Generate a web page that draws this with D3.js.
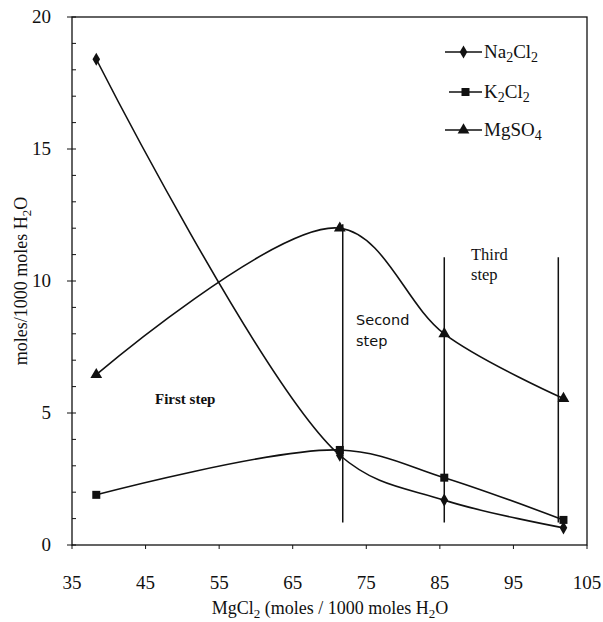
<!DOCTYPE html>
<html>
  <head>
    <meta charset="utf-8">
    <title>Evaporation steps</title>
    <script src="https://d3js.org/d3.v7.min.js"></script>
    <style>
      body { margin: 0; background: #fff; }
      text { font-family: "Liberation Serif", "Times New Roman", serif; fill: #111; }
    </style>
  </head>
  <body>
    <script>
      // data
      var mgcl2   = [38.3, 71.4, 85.6, 101.8];
      var na2cl2  = [18.4, 3.4, 1.7, 0.65];
      var k2cl2   = [1.9, 3.6, 2.55, 0.95];
      var mgso4   = [6.45, 12.0, 8.0, 5.55];
      var xTicks  = [35, 45, 55, 65, 75, 85, 95, 105];
      var yTicks  = [0, 5, 10, 15, 20];
      var stepX   = [71.8, 85.6, 101.1];
      var stepTop = [12.15, 10.9, 10.9];
      var stepBottom = 0.85;

      var margin = {top: 17, left: 72},
          width = 515, height = 528;

      var svg = d3.select("body").append("svg")
        .attr("width", 603)
        .attr("height", 622);

      var g = svg.append("g")
        .attr("transform", "translate(" + margin.left + "," + margin.top + ")");

      var xScale = d3.scaleLinear().domain([35, 105]).range([0, width]);
      var yScale = d3.scaleLinear().domain([0, 20]).range([height, 0]);

      // frame
      g.append("rect")
        .attr("width", width).attr("height", height)
        .attr("fill", "none").attr("stroke", "#111").attr("stroke-width", 1.3);

      // y ticks: minor inside, major crossing
      d3.range(0, 21).forEach(function(v) {
        var major = v % 5 === 0;
        g.append("line")
          .attr("x1", major ? -5 : 0).attr("x2", 4)
          .attr("y1", yScale(v)).attr("y2", yScale(v))
          .attr("stroke", "#111");
      });
      g.selectAll(".ylab")
        .data(yTicks)
        .enter().append("text")
          .attr("x", -21)
          .attr("y", function(d) { return yScale(d) + 6; })
          .attr("text-anchor", "end")
          .style("font-size", "19px")
          .text(function(d) { return d; });

      // x ticks
      g.selectAll(".xtick")
        .data(xTicks)
        .enter().append("line")
          .attr("x1", function(d) { return xScale(d); })
          .attr("x2", function(d) { return xScale(d); })
          .attr("y1", height).attr("y2", height + 4)
          .attr("stroke", "#111");
      g.selectAll(".xlab")
        .data(xTicks)
        .enter().append("text")
          .attr("x", function(d) { return xScale(d); })
          .attr("y", height + 44)
          .attr("text-anchor", "middle")
          .style("font-size", "19px")
          .text(function(d) { return d; });

      // axis titles
      var xt = svg.append("text")
        .attr("x", 330).attr("y", 614)
        .attr("text-anchor", "middle")
        .style("font-size", "18px");
      xt.append("tspan").text("MgCl");
      xt.append("tspan").attr("dy", 4).style("font-size", "13px").text("2");
      xt.append("tspan").attr("dy", -4).text(" (moles / 1000 moles H");
      xt.append("tspan").attr("dy", 4).style("font-size", "13px").text("2");
      xt.append("tspan").attr("dy", -4).text("O");

      var yt = svg.append("text")
        .attr("transform", "translate(27,281) rotate(-90)")
        .attr("text-anchor", "middle")
        .style("font-size", "18px");
      yt.append("tspan").text("moles/1000 moles H");
      yt.append("tspan").attr("dy", 4).style("font-size", "13px").text("2");
      yt.append("tspan").attr("dy", -4).text("O");

      // step dividers
      g.selectAll(".step")
        .data(stepX)
        .enter().append("line")
          .attr("x1", function(d) { return xScale(d); })
          .attr("x2", function(d) { return xScale(d); })
          .attr("y1", function(d, i) { return yScale(stepTop[i]); })
          .attr("y2", yScale(stepBottom))
          .attr("stroke", "#111").attr("stroke-width", 1.5);

      // series
      var series = [
        {name: "Na", values: na2cl2, symbol: d3.symbolDiamond, size: 50},
        {name: "K", values: k2cl2, symbol: d3.symbolSquare, size: 64},
        {name: "Mg", values: mgso4, symbol: d3.symbolTriangle, size: 60}
      ];

      var line = d3.line()
        .x(function(d) { return xScale(d[0]); })
        .y(function(d) { return yScale(d[1]); })
        .curve(d3.curveCatmullRom.alpha(0.5));

      series.forEach(function(s) {
        var pts = d3.zip(mgcl2, s.values);
        g.append("path")
          .attr("d", line(pts))
          .attr("fill", "none").attr("stroke", "#111").attr("stroke-width", 1.6);
        g.selectAll(".pt-" + s.name)
          .data(pts)
          .enter().append("path")
            .attr("d", d3.symbol().type(s.symbol).size(s.size))
            .attr("transform", function(d) {
              return "translate(" + xScale(d[0]) + "," + yScale(d[1]) + ")";
            })
            .attr("fill", "#111");
      });

      // step labels
      g.append("text").attr("x", 83).attr("y", 387)
        .style("font-size", "15px").style("font-weight", "bold")
        .text("First step");
      var s2 = g.append("text").attr("x", 284).attr("y", 308)
        .style("font-family", "'DejaVu Sans', sans-serif").style("font-size", "14.5px");
      s2.append("tspan").text("Second");
      s2.append("tspan").attr("x", 284).attr("dy", 21).text("step");
      var s3 = g.append("text").attr("x", 399).attr("y", 243)
        .style("font-size", "16.5px");
      s3.append("tspan").text("Third");
      s3.append("tspan").attr("x", 399).attr("dy", 20).text("step");

      // legend
      var legend = [
        {sym: d3.symbolDiamond, size: 50, y: 35, x1: 373, label: "Na", sub1: "2", mid: "Cl", sub2: "2"},
        {sym: d3.symbolSquare, size: 64, y: 75, x1: 377, label: "K", sub1: "2", mid: "Cl", sub2: "2"},
        {sym: d3.symbolTriangle, size: 60, y: 113, x1: 373, label: "MgSO", sub1: "4", mid: "", sub2: ""}
      ];
      legend.forEach(function(l) {
        g.append("line")
          .attr("x1", l.x1).attr("x2", 410)
          .attr("y1", l.y).attr("y2", l.y)
          .attr("stroke", "#111").attr("stroke-width", 1.6);
        g.append("path")
          .attr("d", d3.symbol().type(l.sym).size(l.size))
          .attr("transform", "translate(" + ((l.x1 + 410) / 2) + "," + l.y + ")")
          .attr("fill", "#111");
        var t = g.append("text").attr("x", 412).attr("y", l.y + 6)
          .style("font-size", "19px");
        t.append("tspan").text(l.label);
        t.append("tspan").attr("dy", 4).style("font-size", "14px").text(l.sub1);
        if (l.mid) {
          t.append("tspan").attr("dy", -4).text(l.mid);
          t.append("tspan").attr("dy", 4).style("font-size", "14px").text(l.sub2);
        }
      });
    </script>
  </body>
</html>
